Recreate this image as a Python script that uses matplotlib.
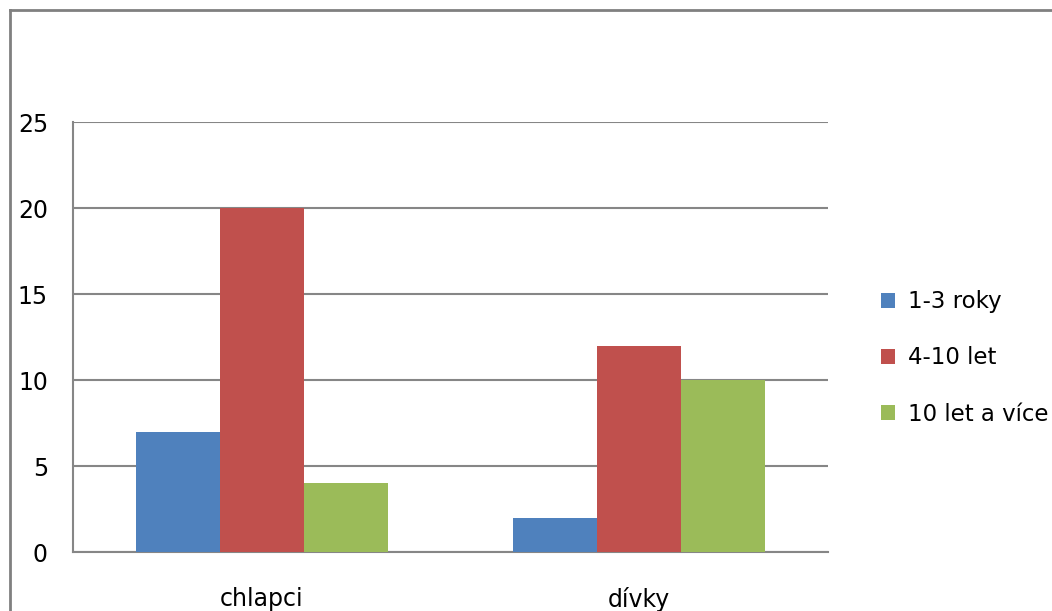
import matplotlib
matplotlib.use("Agg")
import matplotlib.pyplot as plt
from matplotlib.lines import Line2D
from matplotlib.patches import Patch
import numpy as np

categories = ["chlapci", "dívky"]
series_names = ["1-3 roky", "4-10 let", "10 let a více"]
values_1_3 = [7, 2]
values_4_10 = [20, 12]
values_10_plus = [4, 10]
y_ticks = [0, 5, 10, 15, 20, 25]

colors = ["#4F81BD", "#C0504D", "#9BBB59"]
grid_color = "#868686"

plt.rcParams["font.family"] = ["DejaVu Sans"]

W, H = 1052, 611
fig = plt.figure(figsize=(W / 100, H / 100), dpi=100)
ax = fig.add_axes([73 / W, (H - 552) / H, 755 / W, 430 / H])

x = np.arange(len(categories)) + 0.5
bw = 0.2225
series = [values_1_3, values_4_10, values_10_plus]
for i, (vals, col) in enumerate(zip(series, colors)):
    ax.bar(x + (i - 1) * bw, vals, width=bw, color=col, zorder=3, linewidth=0)

ax.set_xlim(0, 2)
ax.set_ylim(0, 25)
ax.set_yticks(y_ticks)
ax.set_xticks(x)
ax.set_xticklabels(categories)
ax.tick_params(axis="both", length=0, labelsize=17, colors="black")
ax.tick_params(axis="y", pad=18)
ax.tick_params(axis="x", pad=25)
ax.yaxis.grid(True, color=grid_color, linewidth=1.5, zorder=0)
ax.set_axisbelow(True)
for s in ["top", "right"]:
    ax.spines[s].set_visible(False)
for s in ["left", "bottom"]:
    ax.spines[s].set_color(grid_color)
    ax.spines[s].set_linewidth(1.5)

handles = [Patch(facecolor=c, edgecolor="none") for c in colors]
fig.legend(handles, series_names, loc="center left",
           bbox_to_anchor=(872 / W, 1 - 358 / H), frameon=False,
           fontsize=16.5, handlelength=0.62, handleheight=0.62,
           handletextpad=0.55, labelspacing=1.45, borderaxespad=0)

# outer chart border (left and top edges)
fig.add_artist(Line2D([10 / W, 10 / W], [0, 1 - 10 / H], transform=fig.transFigure,
                      color="#808080", linewidth=2))
fig.add_artist(Line2D([10 / W, 1], [1 - 10 / H, 1 - 10 / H], transform=fig.transFigure,
                      color="#808080", linewidth=2))

fig.savefig("out.png", dpi=100)
